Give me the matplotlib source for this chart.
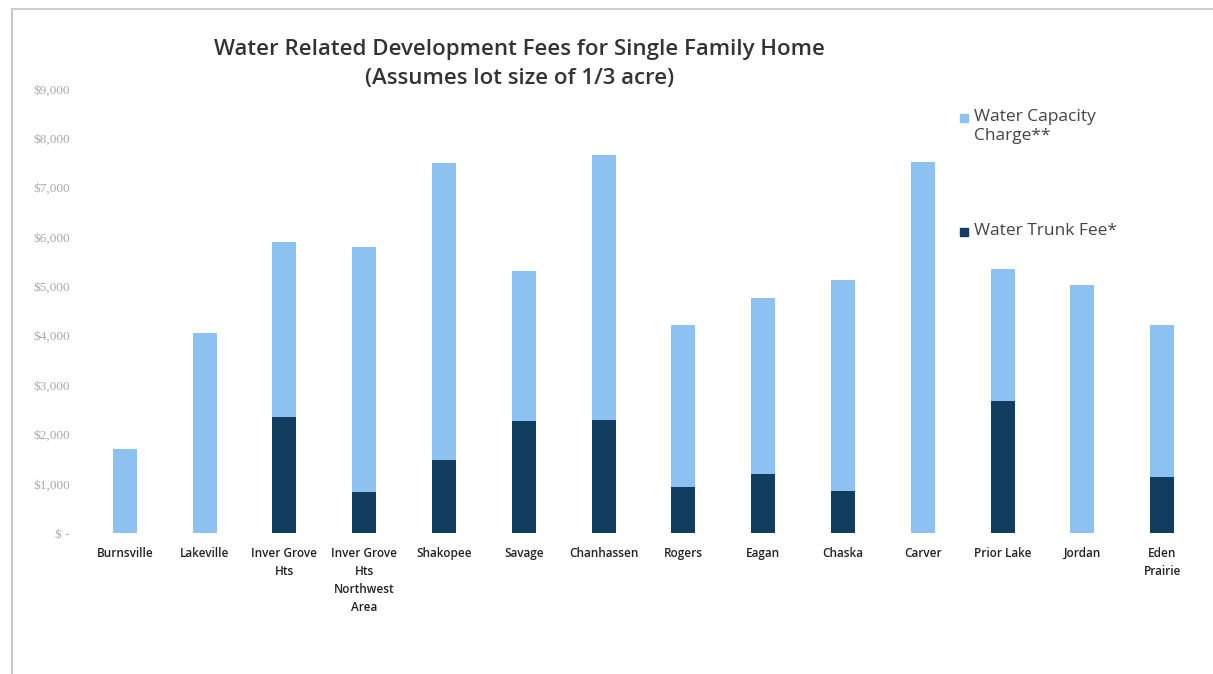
import matplotlib
matplotlib.use("Agg")
import matplotlib.pyplot as plt
from matplotlib.patches import Rectangle
from matplotlib.lines import Line2D

cities = ["Burnsville", "Lakeville", "Inver Grove\nHts", "Inver Grove\nHts\nNorthwest\nArea",
          "Shakopee", "Savage", "Chanhassen", "Rogers", "Eagan", "Chaska",
          "Carver", "Prior Lake", "Jordan", "Eden\nPrairie"]
total_fee = [1700, 4050, 5900, 5800, 7500, 5310, 7670, 4220, 4770, 5130, 7530, 5360, 5030, 4220]
trunk_fee = [0, 0, 2350, 830, 1480, 2270, 2290, 930, 1200, 850, 0, 2680, 0, 1140]
capacity_fee = [t - k for t, k in zip(total_fee, trunk_fee)]

yticks = [0, 1000, 2000, 3000, 4000, 5000, 6000, 7000, 8000, 9000]
ytick_labels = ["$ -", "$1,000", "$2,000", "$3,000", "$4,000", "$5,000",
                "$6,000", "$7,000", "$8,000", "$9,000"]

light = "#8cc1f1"
dark = "#103d60"

plt.rcParams["font.family"] = ["Open Sans", "DejaVu Sans"]

fig = plt.figure(figsize=(12.13, 6.74), dpi=100)
ax = fig.add_axes([0.070, 0.209, 0.921, 0.659])

x = list(range(len(cities)))
ax.bar(x, trunk_fee, width=0.3, color=dark, zorder=2)
ax.bar(x, capacity_fee, width=0.3, bottom=trunk_fee, color=light, zorder=2)

ax.set_xlim(-0.5, len(cities) - 0.5)
ax.set_ylim(0, 9000)
ax.set_yticks(yticks)
ax.set_yticklabels(ytick_labels, fontsize=9.5, color="#a8a8a8", family="Liberation Serif")
ax.set_xticks(x)
ax.set_xticklabels(cities, fontsize=8.5, color="#222222", fontweight="semibold",
                   linespacing=1.5)
ax.tick_params(length=0, pad=10)
ax.tick_params(axis="y", pad=11)
for s in ax.spines.values():
    s.set_visible(False)

fig.text(0.428, 0.926, "Water Related Development Fees for Single Family Home",
         ha="center", va="center", fontsize=16, fontweight="semibold", color="#333333")
fig.text(0.428, 0.883, "(Assumes lot size of 1/3 acre)",
         ha="center", va="center", fontsize=16, fontweight="semibold", color="#333333")

# legend drawn by hand so the square sits next to the first line of its label
legend_items = [("Water Capacity\nCharge**", light, 0.826), ("Water Trunk Fee*", dark, 0.657)]
for label, color, ypos in legend_items:
    fig.add_artist(Rectangle((0.7915, ypos - 0.0075), 0.0065, 0.0117,
                             transform=fig.transFigure, color=color))
    fig.text(0.803, ypos + 0.012, label, ha="left", va="top", fontsize=12.5,
             color="#444444", linespacing=1.25)

# thin frame around the picture (left and top edges visible)
fig.add_artist(Line2D([0.010, 0.010], [0.0, 0.987], transform=fig.transFigure,
                      color="#c8c8c8", lw=1.5))
fig.add_artist(Line2D([0.010, 1.0], [0.987, 0.987], transform=fig.transFigure,
                      color="#d0d0d0", lw=1.5))

plt.savefig("out.png", dpi=100)
